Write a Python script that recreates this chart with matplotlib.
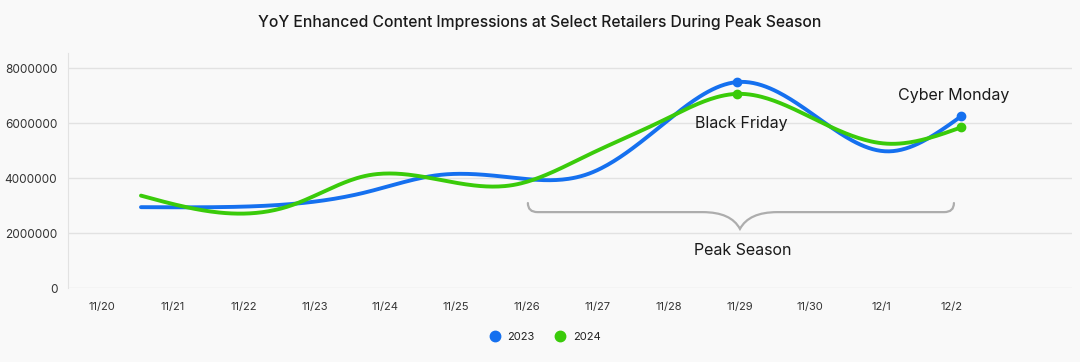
import matplotlib
matplotlib.use("Agg")
import matplotlib.pyplot as plt
import numpy as np
from matplotlib.lines import Line2D
from matplotlib.patches import PathPatch
from matplotlib.path import Path

plt.rcParams["font.family"] = ["Inter", "DejaVu Sans"]

# axis labels
date_labels = ["11/20", "11/21", "11/22", "11/23", "11/24", "11/25", "11/26",
               "11/27", "11/28", "11/29", "11/30", "12/1", "12/2"]
y_ticks = [0, 2000000, 4000000, 6000000, 8000000]

# impressions, one point per day 11/21 .. 12/2
impr_2023 = [2950000, 2950000, 3060000, 3480000, 4120000, 4020000,
             4160000, 5960000, 7500000, 6350000, 4980000, 6250000]
impr_2024 = [3370000, 2770000, 3000000, 4080000, 3950000, 3760000,
             4850000, 6100000, 7070000, 6200000, 5260000, 5850000]
highlight_idx = [8, 11]  # Black Friday, Cyber Monday

BLUE = "#1570EF"
GREEN = "#3ACB0A"
BG = "#F9F9F9"


def natural_spline(x, y, n=400):
    x = np.asarray(x, float)
    y = np.asarray(y, float)
    k = len(x)
    h = np.diff(x)
    a = np.zeros((k, k))
    b = np.zeros(k)
    a[0, 0] = a[-1, -1] = 1
    for i in range(1, k - 1):
        a[i, i - 1] = h[i - 1]
        a[i, i] = 2 * (h[i - 1] + h[i])
        a[i, i + 1] = h[i]
        b[i] = 3 * ((y[i + 1] - y[i]) / h[i] - (y[i] - y[i - 1]) / h[i - 1])
    c = np.linalg.solve(a, b)
    xs = np.linspace(x[0], x[-1], n)
    seg = np.clip(np.searchsorted(x, xs) - 1, 0, k - 2)
    dx = xs - x[seg]
    bb = (y[seg + 1] - y[seg]) / h[seg] - h[seg] * (2 * c[seg] + c[seg + 1]) / 3
    dd = (c[seg + 1] - c[seg]) / (3 * h[seg])
    ys = y[seg] + bb * dx + c[seg] * dx ** 2 + dd * dx ** 3
    return xs, ys


fig = plt.figure(figsize=(10.8, 3.62), dpi=100, facecolor=BG)
ax = fig.add_axes([0.0634, 0.2036, 0.9292, 0.65])
ax.set_facecolor(BG)

ax.set_xlim(-0.473, 13.695)
ax.set_ylim(0, 8556000)
ax.set_xticks(range(len(date_labels)))
ax.set_xticklabels(date_labels, fontsize=8, color="#333333")
ax.set_yticks(y_ticks)
ax.set_yticklabels([str(v) for v in y_ticks], fontsize=8.5, color="#333333")
ax.tick_params(length=0, pad=10)
ax.tick_params(axis="y", pad=8)
ax.grid(axis="y", color="#E2E2E2", linewidth=1)
ax.set_axisbelow(True)
for side in ["top", "right", "bottom"]:
    ax.spines[side].set_visible(False)
ax.spines["left"].set_color("#E2E2E2")

# lines live on their own x scale (points spaced a bit wider than the labels)
lx = ax.twiny()
lx.set_xlim(-0.9725, 12.489)
lx.axis("off")
idx = np.arange(len(impr_2023))
for vals, color in [(impr_2023, BLUE), (impr_2024, GREEN)]:
    xs, ys = natural_spline(idx, vals)
    lx.plot(xs, ys, color=color, linewidth=2.8, solid_capstyle="round", zorder=3)
    lx.plot(idx[highlight_idx], np.array(vals)[highlight_idx], "o",
            color=color, markersize=6, zorder=4)

lx.text(8.05, 5980000, "Black Friday", ha="center", va="center", fontsize=11.5, color="#1A1A1A")
lx.text(10.9, 7000000, "Cyber Monday", ha="center", va="center", fontsize=11.5, color="#1A1A1A")
lx.text(8.07, 1370000, "Peak Season", ha="center", va="center", fontsize=11.5, color="#1A1A1A")

# curly brace under the peak season days
x0, x1, xm = 5.19, 10.905, 8.035
y_top, y_line, y_tip = 3100000, 2770000, 2160000
r = 0.13
verts = [
    (x0, y_top), (x0, y_line), (x0 + r, y_line),
    (xm - 0.5, y_line),
    (xm - 0.12, y_line), (xm, y_tip),
    (xm + 0.12, y_line), (xm + 0.5, y_line),
    (x1 - r, y_line),
    (x1, y_line), (x1, y_top),
]
codes = [Path.MOVETO, Path.CURVE3, Path.CURVE3, Path.LINETO,
         Path.CURVE3, Path.CURVE3, Path.CURVE3, Path.CURVE3,
         Path.LINETO, Path.CURVE3, Path.CURVE3]
lx.add_patch(PathPatch(Path(verts, codes), facecolor="none", edgecolor="#ADADAD",
                       linewidth=1.6, capstyle="round", zorder=2))

fig.text(0.5, 0.937, "YoY Enhanced Content Impressions at Select Retailers During Peak Season",
         ha="center", va="center", fontsize=11.3, color="#1A1A1A", fontweight="medium")

handles = [Line2D([], [], marker="o", linestyle="", color=BLUE, markersize=7.5),
           Line2D([], [], marker="o", linestyle="", color=GREEN, markersize=7.5)]
fig.legend(handles, ["2023", "2024"], loc="center", bbox_to_anchor=(0.502, 0.068),
           ncol=2, frameon=False, fontsize=8, handletextpad=0.15, columnspacing=1.3,
           labelcolor="#222222")

fig.savefig("out.png", dpi=100, facecolor=BG)
